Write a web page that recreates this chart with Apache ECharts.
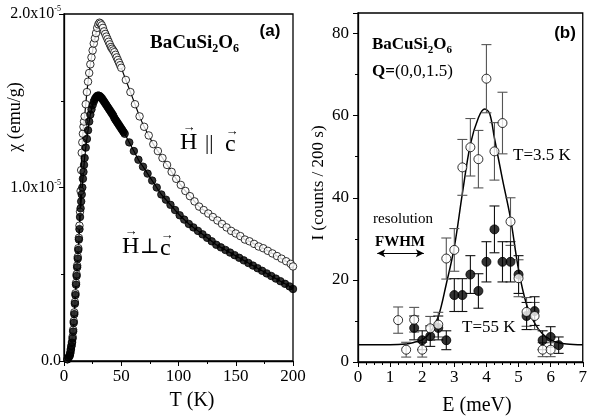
<!DOCTYPE html>
<html>
<head>
<meta charset="utf-8">
<title>BaCuSi2O6</title>
<script src="https://cdn.jsdelivr.net/npm/echarts/dist/echarts.min.js"></script>
<style>
    html, body { margin: 0; padding: 0; background: #fff; }
    #chart { width: 590px; height: 420px; }
</style>
</head>
<body>
<div id="chart"></div>
<script>
// (a) susceptibility, chi in units of 1e-5 emu/g
var tPar = [3, 4, 5, 5.5, 6, 6.5, 7, 7.5, 8, 8.5, 9, 9.5, 10, 10.5, 11, 11.5, 12, 12.5, 13, 13.5, 14, 14.5, 15, 15.5, 16, 16.5, 17, 17.5, 18, 19, 20, 21, 22, 23, 24, 25, 26, 27, 28, 29, 30, 31, 32, 33, 34, 35, 36, 37, 38, 39, 40, 41, 42, 43, 44, 45, 46, 47, 48, 49, 50, 54, 58, 62, 66, 70, 74, 78, 82, 86, 90, 94, 98, 102, 106, 110, 114, 118, 122, 126, 130, 134, 138, 142, 146, 150, 154, 158, 162, 166, 170, 174, 178, 182, 186, 190, 194, 198, 200];
var chiPar = [0.01, 0.02, 0.035, 0.05, 0.07, 0.09, 0.11, 0.14, 0.18, 0.23, 0.28, 0.34, 0.39, 0.45, 0.50, 0.55, 0.60, 0.65, 0.71, 0.78, 0.86, 0.98, 1.10, 1.20, 1.26, 1.31, 1.35, 1.38, 1.41, 1.48, 1.55, 1.61, 1.66, 1.71, 1.75, 1.79, 1.83, 1.86, 1.89, 1.92, 1.94, 1.95, 1.945, 1.935, 1.92, 1.90, 1.885, 1.87, 1.855, 1.84, 1.825, 1.81, 1.80, 1.79, 1.78, 1.765, 1.75, 1.735, 1.72, 1.705, 1.69, 1.62, 1.55, 1.48, 1.41, 1.35, 1.30, 1.25, 1.21, 1.17, 1.13, 1.09, 1.05, 1.015, 0.98, 0.95, 0.92, 0.89, 0.87, 0.85, 0.83, 0.81, 0.79, 0.77, 0.75, 0.735, 0.72, 0.70, 0.69, 0.675, 0.66, 0.65, 0.635, 0.62, 0.605, 0.59, 0.575, 0.56, 0.545];
var tPerp = [3, 4, 5, 5.5, 6, 6.5, 7, 7.5, 8, 8.5, 9, 9.5, 10, 10.5, 11, 11.5, 12, 12.5, 13, 13.5, 14, 14.5, 15, 15.5, 16, 16.5, 17, 17.5, 18, 19, 20, 21, 22, 23, 24, 25, 26, 27, 28, 29, 30, 31, 32, 33, 34, 35, 36, 37, 38, 39, 40, 41, 42, 43, 44, 45, 46, 47, 48, 49, 50, 51, 52, 53, 57, 61, 65, 69, 73, 77, 81, 85, 89, 93, 97, 101, 105, 109, 113, 117, 121, 125, 129, 133, 137, 141, 145, 149, 153, 157, 161, 165, 169, 173, 177, 181, 185, 189, 193, 197, 200];
var chiPerp = [0.01, 0.02, 0.03, 0.045, 0.065, 0.085, 0.105, 0.13, 0.17, 0.22, 0.27, 0.33, 0.38, 0.44, 0.49, 0.54, 0.59, 0.64, 0.70, 0.76, 0.83, 0.88, 0.92, 0.96, 1.00, 1.05, 1.09, 1.13, 1.17, 1.23, 1.28, 1.33, 1.38, 1.42, 1.45, 1.475, 1.495, 1.51, 1.52, 1.528, 1.53, 1.528, 1.522, 1.515, 1.505, 1.495, 1.485, 1.475, 1.465, 1.455, 1.445, 1.435, 1.425, 1.415, 1.40, 1.39, 1.38, 1.37, 1.36, 1.35, 1.34, 1.33, 1.32, 1.31, 1.26, 1.21, 1.16, 1.12, 1.08, 1.04, 1.00, 0.96, 0.93, 0.90, 0.87, 0.84, 0.815, 0.79, 0.77, 0.75, 0.73, 0.71, 0.69, 0.67, 0.655, 0.64, 0.625, 0.61, 0.595, 0.58, 0.565, 0.55, 0.535, 0.52, 0.505, 0.49, 0.475, 0.46, 0.445, 0.43, 0.415];

// (b) neutron intensity
var eOpen = [1.25, 1.5, 1.75, 2.0, 2.25, 2.5, 2.75, 3.0, 3.25, 3.5, 3.75, 4.0, 4.25, 4.5, 4.75, 5.0, 5.25, 5.5, 5.75, 6.0];
var iOpen = [10.2, 3.0, 10.3, 3.0, 8.2, 9.1, 25.2, 27.3, 47.4, 52.3, 49.4, 69.0, 51.3, 58.2, 34.2, 20.4, 12.2, 11.2, 3.0, 3.0];
var errOpen = [3.2, 1.8, 3.0, 1.8, 2.9, 3.0, 5.0, 5.2, 6.8, 7.0, 7.0, 8.3, 7.0, 7.5, 5.8, 4.5, 3.5, 3.3, 1.7, 1.7];
var eFilled = [1.75, 2.0, 2.25, 2.5, 2.75, 3.0, 3.25, 3.5, 3.75, 4.0, 4.25, 4.5, 4.75, 5.0, 5.25, 5.5, 5.75, 6.0, 6.25];
var iFilled = [8.3, 5.3, 6.3, 8.3, 5.3, 16.3, 16.3, 21.3, 17.3, 24.4, 32.3, 24.4, 24.4, 21.3, 11.2, 12.4, 5.3, 6.1, 4.1];
var errFilled = [2.9, 2.3, 2.5, 2.9, 2.3, 4.0, 4.0, 4.6, 4.2, 4.9, 5.7, 4.9, 4.9, 4.6, 3.3, 3.5, 2.3, 2.5, 2.0];
var eFit = [0, 1.0, 1.5, 1.75, 2.0, 2.25, 2.5, 2.75, 3.0, 3.25, 3.5, 3.75, 3.95, 4.1, 4.25, 4.5, 4.75, 5.0, 5.25, 5.5, 5.75, 6.0, 6.25, 6.5, 7.0];
var iFit = [4.2, 4.2, 4.4, 4.8, 5.4, 7.2, 11.0, 19.0, 28.0, 41.0, 53.0, 59.5, 61.6, 60.5, 54.5, 44.5, 35.0, 22.5, 14.0, 9.5, 6.8, 5.4, 4.7, 4.4, 4.2];

var SERIF = "'Liberation Serif', 'DejaVu Serif', serif";
var SANS = "'Liberation Sans', Arial, sans-serif";

function pairs(xs, ys) {
    return xs.map(function (x, i) { return [x, ys[i]]; });
}
function errRows(xs, ys, es) {
    return xs.map(function (x, i) { return [x, ys[i] - es[i], ys[i] + es[i]]; });
}
function errorBars(color) {
    return function (params, api) {
        var x = api.value(0);
        var top = api.coord([x, api.value(2)]);
        var bot = api.coord([x, api.value(1)]);
        var w = 5;
        var st = { stroke: color, lineWidth: 1.1 };
        return {
            type: 'group',
            children: [
                { type: 'line', shape: { x1: top[0], y1: top[1], x2: bot[0], y2: bot[1] }, style: st },
                { type: 'line', shape: { x1: top[0] - w, y1: top[1], x2: top[0] + w, y2: top[1] }, style: st },
                { type: 'line', shape: { x1: bot[0] - w, y1: bot[1], x2: bot[0] + w, y2: bot[1] }, style: st }
            ]
        };
    };
}
function axisCommon() {
    return {
        axisLine: { lineStyle: { color: '#000', width: 1.3 } },
        axisTick: { length: 5, lineStyle: { color: '#000', width: 1 } },
        minorTick: { show: true, length: 3, lineStyle: { color: '#000', width: 1 } },
        splitLine: { show: false },
        axisLabel: { color: '#000', fontFamily: SERIF, fontSize: 17 }
    };
}
function txt(x, y, text, size, extra) {
    var s = { text: text, fontFamily: SERIF, fontSize: size, fill: '#000', textAlign: 'left', textVerticalAlign: 'middle' };
    for (var k in extra) s[k] = extra[k];
    return { type: 'text', x: x, y: y, z: 100, style: s };
}

var xa = axisCommon();
xa.gridIndex = 0; xa.type = 'value'; xa.min = 0; xa.max = 200; xa.interval = 50;
xa.minorTick.splitNumber = 2;
xa.axisLabel.margin = 7;

var ya = axisCommon();
ya.gridIndex = 0; ya.type = 'value'; ya.min = 0; ya.max = 2; ya.interval = 1;
ya.minorTick.splitNumber = 2;
ya.axisLabel.margin = 3;
ya.axisLabel.fontSize = 16;
ya.axisLabel.formatter = function (v) {
    if (v === 0) return '0.0';
    return '{m|' + v.toFixed(1) + 'x10}{s|-5}';
};
ya.axisLabel.rich = {
    m: { fontFamily: SERIF, fontSize: 16, color: '#000', lineHeight: 18 },
    s: { fontFamily: SERIF, fontSize: 8, color: '#000', verticalAlign: 'top', lineHeight: 18 }
};

var xb = axisCommon();
xb.gridIndex = 1; xb.type = 'value'; xb.min = 0; xb.max = 7; xb.interval = 1;
xb.minorTick.splitNumber = 4;
xb.axisLabel.margin = 7;

var yb = axisCommon();
yb.gridIndex = 1; yb.type = 'value'; yb.min = 0; yb.max = 85; yb.interval = 20;
yb.minorTick.splitNumber = 2;
yb.axisLabel.margin = 9;
yb.axisLabel.showMaxLabel = false;

var myChart = echarts.init(document.getElementById('chart'), null, { renderer: 'canvas' });
var option = {
    animation: false,
    backgroundColor: '#fff',
    grid: [
        { left: 64, top: 14, width: 229, height: 347, show: true, borderColor: '#000', borderWidth: 1.3, containLabel: false },
        { left: 358, top: 13, width: 230, height: 349, show: true, borderColor: '#000', borderWidth: 1.3, containLabel: false }
    ],
    xAxis: [xa, xb],
    yAxis: [ya, yb],
    series: [
        {
            type: 'line', xAxisIndex: 0, yAxisIndex: 0, data: pairs(tPar, chiPar),
            showSymbol: false, smooth: 0.3, lineStyle: { color: '#000', width: 1.2 }, z: 2
        },
        {
            type: 'line', xAxisIndex: 0, yAxisIndex: 0, data: pairs(tPerp, chiPerp),
            showSymbol: false, smooth: 0.3, lineStyle: { color: '#000', width: 1.2 }, z: 2
        },
        {
            type: 'scatter', xAxisIndex: 0, yAxisIndex: 0, data: pairs(tPar, chiPar),
            symbol: 'circle', symbolSize: 7.5, z: 3,
            itemStyle: { color: '#fff', borderColor: '#000', borderWidth: 1 }
        },
        {
            type: 'scatter', xAxisIndex: 0, yAxisIndex: 0, data: pairs(tPerp, chiPerp),
            symbol: 'circle', symbolSize: 7.5, z: 4,
            itemStyle: { color: '#000', borderColor: '#000', borderWidth: 1 }
        },
        {
            type: 'line', xAxisIndex: 1, yAxisIndex: 1, data: pairs(eFit, iFit),
            showSymbol: false, smooth: 0.35, lineStyle: { color: '#000', width: 1.5 }, z: 2,
            markLine: {
                silent: true,
                symbol: ['arrow', 'arrow'],
                symbolSize: [6, 8],
                label: { show: false },
                lineStyle: { color: '#000', width: 1, type: 'solid' },
                data: [[{ coord: [0.6, 26.5] }, { coord: [2.05, 26.5] }]]
            }
        },
        {
            type: 'custom', xAxisIndex: 1, yAxisIndex: 1, data: errRows(eOpen, iOpen, errOpen),
            renderItem: errorBars('#555'), encode: { x: 0, y: [1, 2] }, z: 3
        },
        {
            type: 'custom', xAxisIndex: 1, yAxisIndex: 1, data: errRows(eFilled, iFilled, errFilled),
            renderItem: errorBars('#111'), encode: { x: 0, y: [1, 2] }, z: 3
        },
        {
            type: 'scatter', xAxisIndex: 1, yAxisIndex: 1, data: pairs(eFilled, iFilled),
            symbol: 'circle', symbolSize: 9, z: 4,
            itemStyle: { color: '#000', borderColor: '#000', borderWidth: 1 }
        },
        {
            type: 'scatter', xAxisIndex: 1, yAxisIndex: 1, data: pairs(eOpen, iOpen),
            symbol: 'circle', symbolSize: 9, z: 5,
            itemStyle: { color: '#fff', borderColor: '#000', borderWidth: 1 }
        }
    ],
    graphic: [
        // panel (a)
        txt(150, 43, '{b|BaCuSi}{s|2}{b|O}{s|6}', 19, {
            rich: {
                b: { fontFamily: SERIF, fontSize: 19, fontWeight: 'bold', lineHeight: 24, verticalAlign: 'middle' },
                s: { fontFamily: SERIF, fontSize: 12, fontWeight: 'bold', lineHeight: 24, verticalAlign: 'bottom' }
            }
        }),
        txt(270, 31, '(a)', 17, { fontFamily: SANS, fontWeight: 'bold', textAlign: 'center' }),
        txt(180, 143, 'H', 24),
        txt(205, 143, '||', 21),
        txt(225, 145, 'c', 24),
        txt(189, 128, '\u2192', 13, { textAlign: 'center' }),
        txt(232, 132, '\u2192', 13, { textAlign: 'center' }),
        txt(122, 247, 'H', 24),
        txt(140, 247, '\u22A5', 21),
        txt(160, 249, 'c', 24),
        txt(131, 232, '\u2192', 13, { textAlign: 'center' }),
        txt(167, 236, '\u2192', 13, { textAlign: 'center' }),
        txt(15, 117, '\u03C7 (emu/g)', 18, { textAlign: 'center' }),
        txt(192, 401, 'T (K)', 20, { textAlign: 'center' }),
        // panel (b)
        txt(372, 45, '{b|BaCuSi}{s|2}{b|O}{s|6}', 17, {
            rich: {
                b: { fontFamily: SERIF, fontSize: 17, fontWeight: 'bold', lineHeight: 22, verticalAlign: 'middle' },
                s: { fontFamily: SERIF, fontSize: 11, fontWeight: 'bold', lineHeight: 22, verticalAlign: 'bottom' }
            }
        }),
        txt(372, 72, '{b|Q=}{n|(0,0,1.5)}', 17, {
            rich: {
                b: { fontFamily: SERIF, fontSize: 17, fontWeight: 'bold' },
                n: { fontFamily: SERIF, fontSize: 17 }
            }
        }),
        txt(565, 33, '(b)', 17, { fontFamily: SANS, fontWeight: 'bold', textAlign: 'center' }),
        txt(513, 156, 'T=3.5 K', 17),
        txt(462, 328, 'T=55 K', 17),
        txt(403, 219, 'resolution', 15, { textAlign: 'center' }),
        txt(400, 242, 'FWHM', 15, { textAlign: 'center', fontWeight: 'bold' }),
        txt(477, 406, 'E (meV)', 20, { textAlign: 'center' }),
        txt(319, 183, 'I (counts / 200 s)', 17, { textAlign: 'center' })
    ]
};
// rotate the vertical axis titles
option.graphic[12].rotation = Math.PI / 2;
option.graphic[option.graphic.length - 1].rotation = Math.PI / 2;
myChart.setOption(option);
</script>
</body>
</html>
